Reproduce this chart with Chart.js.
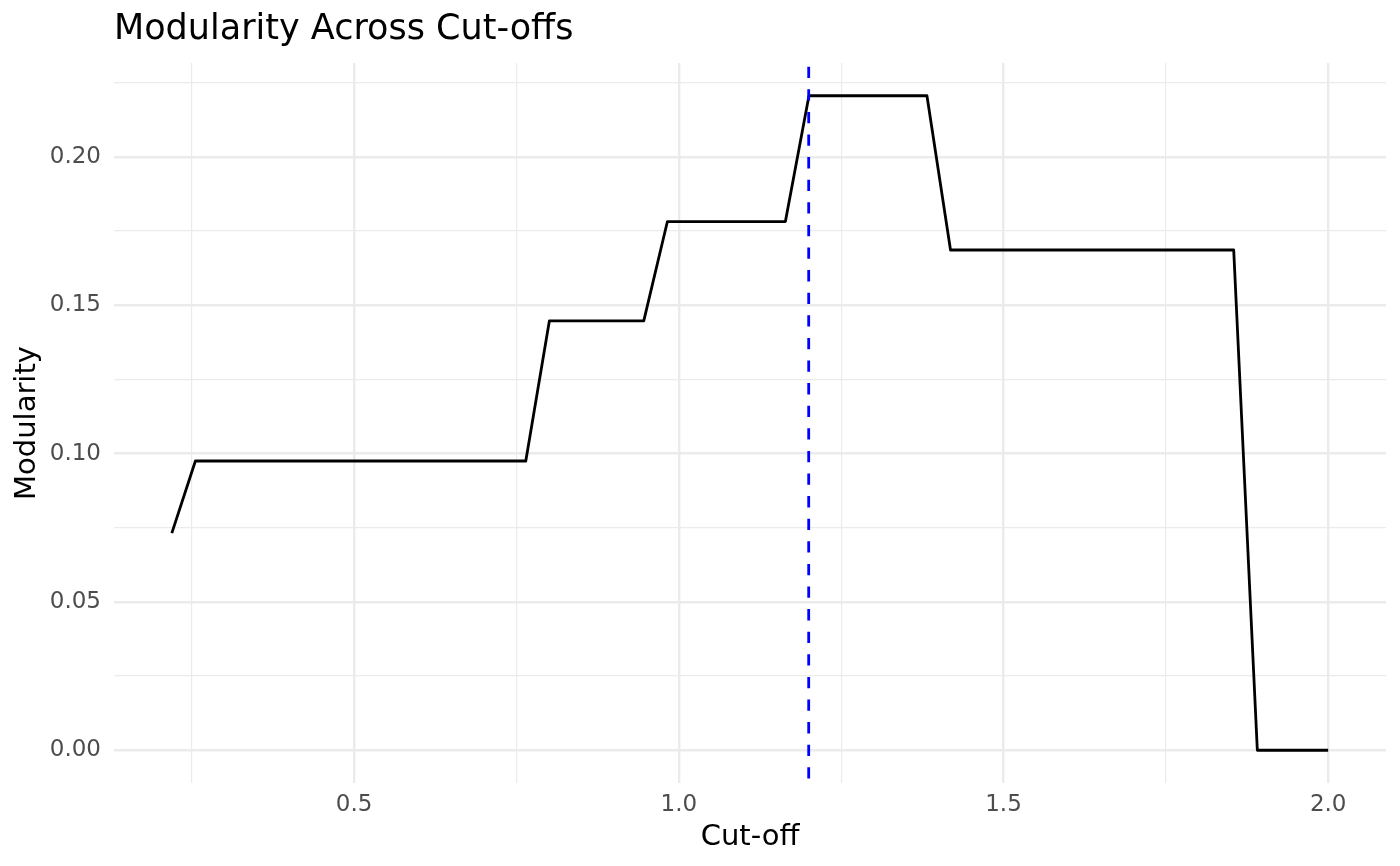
<!DOCTYPE html>
<html>
<head>
<meta charset="utf-8">
<script src="https://cdn.jsdelivr.net/npm/chart.js@4"></script>
<style>
  html, body { margin: 0; padding: 0; background: #fff; }
  #wrap { width: 1400px; height: 866px; }
</style>
</head>
<body>
<div id="wrap"><canvas id="chart" width="1400" height="866"></canvas></div>
<script>
// values
const cutoffs = [0.2192, 0.2555, 0.7643, 0.8006, 0.9460, 0.9824, 1.1641, 1.2004, 1.3821, 1.4184, 1.8545, 1.8909, 2.0];
const modularity = [0.0732, 0.0975, 0.0975, 0.1447, 0.1447, 0.1782, 0.1782, 0.2206, 0.2206, 0.1686, 0.1686, 0.0, 0.0];
const bestCutoff = 1.2;

const xMajor = [0.5, 1.0, 1.5, 2.0];
const xMajorLabels = ["0.5", "1.0", "1.5", "2.0"];
const xMinor = [0.25, 0.75, 1.25, 1.75];
const yMajor = [0, 0.05, 0.10, 0.15, 0.20];
const yMajorLabels = ["0.00", "0.05", "0.10", "0.15", "0.20"];
const yMinor = [0.025, 0.075, 0.125, 0.175, 0.225];

const FONT = "'DejaVu Sans', 'Liberation Sans', sans-serif";
Chart.defaults.font.family = FONT;

// ggplot-like 5% expansion around the data
function expand(values) {
    const lo = Math.min.apply(null, values), hi = Math.max.apply(null, values);
    const pad = (hi - lo) * 0.05;
    return { min: lo - pad, max: hi + pad };
}
const xr = expand(cutoffs);
const yr = expand(modularity);

function tickList(major, minor) {
    return major.concat(minor).sort(function(a, b) { return a - b; });
}
function isIn(list, v) {
    return list.some(function(m) { return Math.abs(m - v) < 1e-9; });
}
function labelFor(major, labels, v) {
    for (let i = 0; i < major.length; i++) {
        if (Math.abs(major[i] - v) < 1e-9) return labels[i];
    }
    return "";
}

const vlinePlugin = {
    id: "vline",
    afterDatasetsDraw: function(chart) {
        const ctx = chart.ctx;
        const area = chart.chartArea;
        const x = chart.scales.x.getPixelForValue(bestCutoff);
        ctx.save();
        ctx.beginPath();
        ctx.rect(area.left, area.top, area.right - area.left, area.bottom - area.top);
        ctx.clip();
        ctx.strokeStyle = "#0000FF";
        ctx.lineWidth = 2.8;
        ctx.setLineDash([11.3, 11.3]);
        ctx.lineDashOffset = 18.9;
        ctx.beginPath();
        ctx.moveTo(x, area.top);
        ctx.lineTo(x, area.bottom);
        ctx.stroke();
        ctx.restore();
    }
};

new Chart(document.getElementById("chart"), {
    type: "line",
    data: {
        datasets: [{
            label: "Modularity",
            data: cutoffs.map(function(c, i) { return { x: c, y: modularity[i] }; }),
            borderColor: "#000000",
            borderWidth: 2.8,
            borderJoinStyle: "round",
            borderCapStyle: "butt",
            pointRadius: 0,
            tension: 0,
            fill: false
        }]
    },
    options: {
        responsive: false,
        animation: false,
        events: [],
        layout: { padding: { left: 0, right: 14, top: 0, bottom: 0 } },
        plugins: {
            legend: { display: false },
            tooltip: { enabled: false },
            title: {
                display: true,
                text: "Modularity Across Cut-offs",
                align: "start",
                fullSize: false,
                color: "#000000",
                font: { size: 35, weight: "normal", family: FONT },
                padding: { top: 9, bottom: 12 }
            }
        },
        scales: {
            x: {
                type: "linear",
                min: xr.min,
                max: xr.max,
                afterBuildTicks: function(scale) {
                    scale.ticks = tickList(xMajor, xMinor).map(function(v) { return { value: v }; });
                },
                afterFit: function(scale) { scale.height = 83; },
                ticks: {
                    autoSkip: false,
                    maxRotation: 0,
                    padding: 8,
                    color: "#4D4D4D",
                    font: { size: 23 },
                    callback: function(v) { return labelFor(xMajor, xMajorLabels, v); }
                },
                grid: {
                    drawTicks: false,
                    color: "#EBEBEB",
                    lineWidth: function(c) { return c.tick && isIn(xMajor, c.tick.value) ? 2.4 : 1.2; }
                },
                border: { display: false },
                title: {
                    display: true,
                    text: "Cut-off",
                    color: "#000000",
                    font: { size: 29 },
                    padding: { top: 0, bottom: 11 }
                }
            },
            y: {
                type: "linear",
                min: yr.min,
                max: yr.max,
                afterBuildTicks: function(scale) {
                    scale.ticks = tickList(yMajor, yMinor).map(function(v) { return { value: v }; });
                },
                afterFit: function(scale) { scale.width = 114; },
                ticks: {
                    autoSkip: false,
                    padding: 13,
                    color: "#4D4D4D",
                    font: { size: 23 },
                    callback: function(v) { return labelFor(yMajor, yMajorLabels, v); }
                },
                grid: {
                    drawTicks: false,
                    color: "#EBEBEB",
                    lineWidth: function(c) { return c.tick && isIn(yMajor, c.tick.value) ? 2.4 : 1.2; }
                },
                border: { display: false },
                title: {
                    display: true,
                    text: "Modularity",
                    color: "#000000",
                    font: { size: 29 },
                    padding: { top: 10, bottom: 0 }
                }
            }
        }
    },
    plugins: [vlinePlugin]
});
</script>
</body>
</html>
